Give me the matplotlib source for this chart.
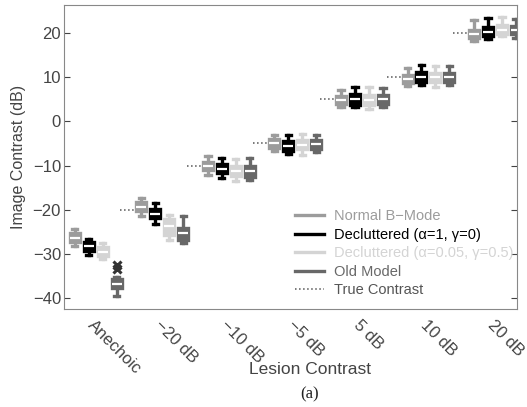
import matplotlib.pyplot as plt
import numpy as np

plt.rcParams['font.family'] = ['Liberation Sans', 'DejaVu Sans']

categories = ['Anechoic', '\u221220 dB', '\u221210 dB', '\u22125 dB', '5 dB', '10 dB', '20 dB']
true_contrast = [None, -20, -10, -5, 5, 10, 20]

# per method: median, q1, q3, whisker low, whisker high
normal_med = [-26.4, -19.3, -10.1, -5.0, 4.8, 9.6, 19.8]
normal_q1 = [-27.4, -20.4, -11.1, -6.0, 3.9, 8.8, 19.0]
normal_q3 = [-25.3, -18.2, -9.2, -4.1, 5.8, 10.6, 20.8]
normal_lo = [-28.3, -21.4, -12.1, -6.8, 3.3, 8.0, 18.3]
normal_hi = [-24.4, -17.3, -7.9, -3.2, 7.2, 12.2, 23.0]

dec1_med = [-28.3, -21.0, -10.7, -5.5, 5.0, 10.1, 20.3]
dec1_q1 = [-29.3, -22.0, -11.7, -6.6, 3.8, 9.0, 19.3]
dec1_q3 = [-27.4, -19.8, -9.6, -4.5, 6.1, 11.2, 21.4]
dec1_lo = [-30.2, -23.2, -12.8, -7.4, 3.2, 8.2, 18.6]
dec1_hi = [-26.7, -18.6, -8.3, -3.0, 7.8, 12.8, 23.5]

dec2_med = [-29.6, -23.8, -11.3, -5.3, 4.9, 10.0, 20.8]
dec2_q1 = [-30.6, -25.8, -12.4, -6.3, 3.8, 9.0, 19.9]
dec2_q3 = [-28.5, -22.2, -10.0, -4.2, 5.9, 11.0, 21.8]
dec2_lo = [-31.1, -26.8, -13.6, -7.6, 2.9, 7.9, 19.3]
dec2_hi = [-27.5, -21.2, -8.5, -2.9, 7.8, 12.6, 23.7]

old_med = [-36.8, -25.2, -11.3, -5.2, 5.0, 10.0, 20.7]
old_q1 = [-37.8, -26.9, -12.5, -6.3, 4.0, 9.0, 19.8]
old_q3 = [-35.8, -24.1, -10.0, -4.2, 6.0, 11.0, 21.7]
old_lo = [-39.5, -27.5, -13.3, -7.0, 3.3, 8.3, 19.0]
old_hi = [-35.2, -21.4, -8.3, -3.1, 7.5, 12.5, 23.1]
old_fliers = [[-32.6, -33.4], [], [], [], [], [], []]

labels = ['Normal B\u2212Mode', 'Decluttered (\u03b1=1, \u03b3=0)',
          'Decluttered (\u03b1=0.05, \u03b3=0.5)', 'Old Model']
colors = ['#9c9c9c', '#000000', '#d4d4d4', '#686868']
methods = [
    (normal_med, normal_q1, normal_q3, normal_lo, normal_hi, None),
    (dec1_med, dec1_q1, dec1_q3, dec1_lo, dec1_hi, None),
    (dec2_med, dec2_q1, dec2_q3, dec2_lo, dec2_hi, None),
    (old_med, old_q1, old_q3, old_lo, old_hi, old_fliers),
]
offsets = [-0.315, -0.105, 0.105, 0.315]

fig = plt.figure(figsize=(5.27, 4.07), dpi=100)
ax = fig.add_axes([0.121, 0.241, 0.860, 0.747])

x = np.arange(1, len(categories) + 1)
lw = 2.4
for (med, q1, q3, lo, hi, fl), col, off, lab in zip(methods, colors, offsets, labels):
    stats = []
    for i in range(len(categories)):
        stats.append(dict(med=med[i], q1=q1[i], q3=q3[i], whislo=lo[i], whishi=hi[i],
                          fliers=fl[i] if fl else []))
    ax.bxp(stats, positions=x + off, widths=0.15, patch_artist=True, manage_ticks=False,
           boxprops=dict(facecolor=col, edgecolor=col, linewidth=lw),
           medianprops=dict(color='white', linewidth=1.6),
           whiskerprops=dict(color=col, linewidth=lw),
           capprops=dict(color=col, linewidth=lw),
           capwidths=0.08,
           flierprops=dict(marker='x', markeredgecolor='#333333', markersize=6,
                           markeredgewidth=2.2))
    ax.plot([], [], color=col, lw=2.4, label=lab)

for xi, tc in zip(x, true_contrast):
    if tc is None:
        continue
    ax.plot([xi - 0.63, xi - 0.40], [tc, tc], ls=':', color='#555555', lw=1.1)
ax.plot([], [], ls=':', color='#555555', lw=1.1, label='True Contrast')

ax.set_xlim(0.52, 7.33)
ax.set_ylim(-42.5, 26.4)
ax.set_yticks([-40, -30, -20, -10, 0, 10, 20])
ax.set_yticklabels(['\u221240', '\u221230', '\u221220', '\u221210', '0', '10', '20'])
ax.set_xticks(x)
ax.set_xticklabels(categories, rotation=-45, ha='left', va='top', rotation_mode='anchor')
ax.tick_params(axis='both', direction='in', labelsize=12, colors='#444444')
ax.tick_params(axis='x', length=0, pad=6)
ax.tick_params(axis='y', right=True, length=4, pad=2)
for s in ax.spines.values():
    s.set_color('#888888')

ax.set_ylabel('Image Contrast (dB)', fontsize=11.5, color='#444444', labelpad=5)
ax.set_xlabel('Lesion Contrast', fontsize=12.5, color='#444444')
ax.xaxis.set_label_coords(0.543, -0.176)

leg = ax.legend(loc='lower left', bbox_to_anchor=(0.497, 0.02), frameon=False,
                fontsize=10.5, handlelength=2.0, handletextpad=0.7, labelspacing=0.3,
                borderaxespad=0)
text_colors = colors + ['#555555']
for t, c in zip(leg.get_texts(), text_colors):
    t.set_color(c)

fig.text(0.588, 0.032, '(a)', fontsize=12, family='Liberation Serif', ha='center',
         va='center', color='#222222')

fig.savefig('out.png', dpi=100)
